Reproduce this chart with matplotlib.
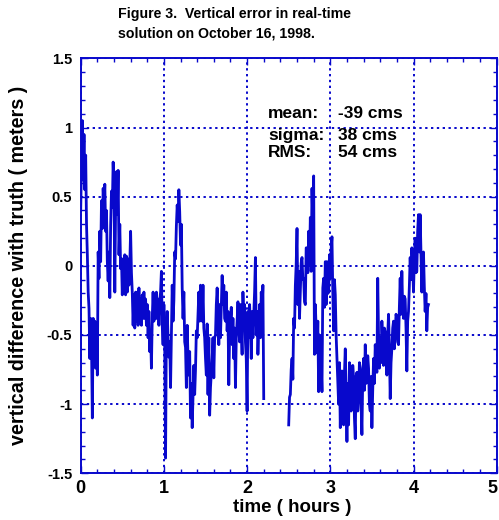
import numpy as np
import matplotlib.pyplot as plt
from matplotlib.ticker import MultipleLocator
from matplotlib.transforms import ScaledTranslation

plt.rcParams['font.family'] = ['Liberation Sans', 'DejaVu Sans']
plt.rcParams['font.weight'] = 'bold'

# Vertical error (meters), one value every 0.01 hour.
# Two stretches of data with a gap between 2.2 h and 2.5 h.
seg1_start, seg1_end = 0.00, 2.20
seg1_err = [
    0.40, 0.75, 1.05, 0.62, 0.95, 0.55, 0.80, 0.30, 0.08, -0.19,
    -0.31, -0.67, -0.38, -0.57, -1.10, -0.38, -0.72, -0.40, -0.74, -0.47,
    -0.79, 0.10, -0.09, 0.25, 0.03, 0.47, 0.27, 0.56, 0.44, 0.59,
    0.25, 0.40, 0.03, -0.11, 0.10, -0.23, 0.29, 0.54, 0.42, 0.75,
    0.58, -0.19, 0.44, 0.68, 0.37, 0.69, 0.08, 0.30, -0.02, 0.05,
    -0.21, 0.05, -0.16, 0.08, -0.21, 0.07, -0.19, 0.05, -0.14, 0.01,
    0.25, -0.05, -0.19, -0.43, -0.21, -0.45, -0.19, -0.40, -0.19, -0.43,
    -0.16, -0.40, -0.24, -0.43, -0.21, -0.38, -0.19, -0.38, -0.24, -0.43,
    -0.28, -0.52, -0.33, -0.62, -0.47, -0.74, -0.38, -0.19, -0.40, -0.21,
    -0.38, -0.19, -0.38, -0.24, -0.43, -0.25, -0.19, -0.04, -0.43, -0.57,
    -0.28, -0.59, -1.39, -0.45, -0.33, -0.52, -0.66, -0.55, -0.88, -0.52,
    -0.14, -0.40, -0.25, 0.10, 0.05, 0.29, 0.44, 0.32, 0.55, 0.39,
    0.15, 0.30, -0.16, -0.38, -0.19, -0.55, -0.59, -0.88, -0.43, -0.67,
    -0.79, -0.62, -1.10, -0.85, -1.17, -0.93, -0.72, -0.93, -0.75, -0.47,
    -0.52, -0.35, -0.19, -0.40, -0.14, -0.30, -0.40, -0.14, -0.45, -0.52,
    -0.67, -0.79, -0.42, -0.93, -0.52, -1.08, -0.88, -0.77, -0.67, -0.52,
    -0.81, -0.52, -0.50, -0.28, -0.16, -0.33, -0.57, -0.28, -0.52, -0.30,
    -0.07, -0.28, -0.14, -0.38, -0.40, -0.19, -0.47, -0.33, -0.86, -0.50,
    -0.38, -0.30, -0.57, -0.38, -0.67, -0.45, -0.88, -0.52, -0.40, -0.26,
    -0.45, -0.55, -0.28, -0.47, -0.64, -0.19, -0.38, -0.28, -0.55, -0.67,
    -1.05, -0.33, -0.52, -0.28, -0.45, -0.67, -0.33, -0.52, -0.35, -0.19,
    0.06, -0.50, -0.33, -0.64, -0.45, -0.28, -0.52, -0.19, -0.33, -0.14,
    -0.96,
]
seg2_start, seg2_end = 2.50, 4.18
seg2_err = [
    -1.15, -0.95, -0.93, -0.75, -0.67, -0.82, -0.38, -0.45, -0.14, 0.01,
    0.27, -0.28, -0.04, -0.38, -0.19, 0.02, 0.06, -0.10, -0.09, -0.26,
    -0.28, 0.13, 0.13, -0.05, 0.25, 0.02, 0.35, -0.04, 0.56, 0.30,
    0.65, -0.64, -0.28, -0.45, -0.63, -0.40, -0.91, -0.50, -0.52, -0.70,
    -0.91, -0.16, -0.09, -0.30, 0.03, -0.28, 0.03, -0.20, -0.19, 0.08,
    -0.09, 0.12, 0.21, -0.19, -0.47, -0.10, -0.21, -0.50, -0.67, -0.85,
    -1.00, -0.70, -1.17, -0.80, -0.76, -1.05, -1.15, -0.78, -0.60, -0.95,
    -1.27, -0.85, -1.15, -0.70, -0.74, -1.05, -1.01, -0.72, -0.81, -1.10,
    -1.25, -0.80, -0.77, -1.05, -0.96, -0.70, -0.74, -1.00, -1.22, -0.80,
    -0.67, -0.90, -0.57, -0.85, -0.84, -0.65, -0.74, -1.00, -1.05, -0.80,
    -1.17, -0.90, -0.67, -0.85, -0.57, -0.70, -0.77, -0.09, -0.50, -0.74,
    -0.52, -0.70, -0.40, -0.55, -0.72, -0.45, -0.48, -0.62, -0.79, -0.50,
    -0.35, -0.60, -0.96, -0.70, -0.60, -0.45, -0.40, -0.60, -0.47, -0.35,
    -0.38, -0.55, -0.57, -0.30, -0.09, -0.35, -0.04, -0.30, -0.38, -0.22,
    -0.24, -0.45, -0.76, -0.40, -0.33, -0.15, 0.06, -0.10, 0.13, 0.00,
    -0.19, 0.05, 0.20, -0.05, -0.04, 0.25, 0.37, 0.10, 0.37, 0.08,
    -0.19, 0.05, 0.10, -0.15, -0.33, -0.20, -0.47, -0.30, -0.28,
]

stats_labels = ['mean:', 'sigma:', 'RMS:']
stats_values = ['-39 cms', '38 cms', '54 cms']

blue = '#0808cc'

seg1_hours = np.linspace(seg1_start, seg1_end, len(seg1_err))
seg2_hours = np.linspace(seg2_start, seg2_end, len(seg2_err))

fig = plt.figure(figsize=(4.99, 5.20), dpi=100)
ax = fig.add_axes([0.1617, 0.0898, 0.8337, 0.798])

ax.plot(seg1_hours, seg1_err, color=blue, lw=2.0)
ax.plot(seg2_hours, seg2_err, color=blue, lw=2.0)

ax.set_xlim(0, 5)
ax.set_ylim(-1.5, 1.5)
ax.xaxis.set_minor_locator(MultipleLocator(0.2))
ax.yaxis.set_minor_locator(MultipleLocator(0.1))
ax.set_yticks([-1.5, -1, -0.5, 0, 0.5, 1, 1.5])
ax.set_yticklabels(['-1.5', '-1', '-0.5', '0', '0.5', '1', '1.5'])
ax.set_xticks([0, 1, 2, 3, 4, 5])
ax.set_xticklabels(['0', '1', '2', '3', '4', '5'])

ax.tick_params(which='both', direction='in', top=True, right=True, color=blue)
ax.tick_params(which='major', length=5, width=1)
ax.tick_params(which='minor', length=3, width=1)
ax.tick_params(axis='y', labelsize=10.5, pad=6)
ax.tick_params(axis='x', labelsize=13, pad=5)
# last x label sits against the right edge in the original
lab5 = ax.get_xticklabels()[-1]
lab5.set_transform(lab5.get_transform() + ScaledTranslation(-3 / 72, 0, fig.dpi_scale_trans))

ax.grid(True, which='major', color=blue, ls=(0, (1.2, 1.8)), lw=1.4)
for s in ax.spines.values():
    s.set_color(blue)
    s.set_linestyle((0, (1.2, 1.0)))
    s.set_linewidth(1.4)

ax.set_xlabel('time ( hours )', fontsize=13.5, fontweight='bold')
ax.set_ylabel('vertical difference with truth ( meters )', fontsize=14.2,
              fontweight='bold')
ax.xaxis.set_label_coords(0.508, -0.062)
ax.yaxis.set_label_coords(-0.127, 0.5)

fig.text(118 / 499, 1 - 7 / 520, 'Figure 3.  Vertical error in real-time',
         fontsize=10.2, fontweight='bold', ha='left', va='top')
fig.text(118 / 499, 1 - 27 / 520, 'solution on October 16, 1998.',
         fontsize=10.2, fontweight='bold', ha='left', va='top')

for lab, val, yb in zip(stats_labels, stats_values, [1.069, 0.910, 0.787]):
    ax.text(2.25, yb, lab, fontsize=12.5, fontweight='bold', va='baseline')
    ax.text(3.09, yb, val, fontsize=12.5, fontweight='bold', va='baseline')

fig.savefig('out.png', dpi=100)
